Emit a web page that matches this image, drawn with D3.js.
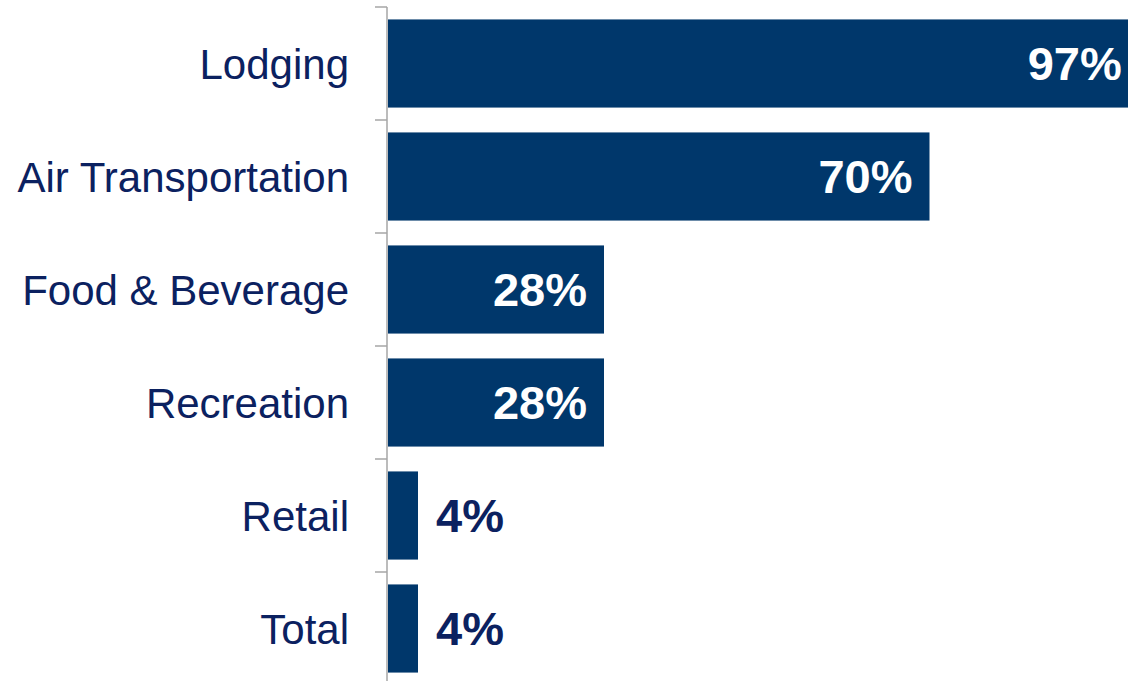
<!DOCTYPE html>
<html>
<head>
<meta charset="utf-8">
<script src="https://cdn.jsdelivr.net/npm/d3@7"></script>
<style>
  html, body { margin: 0; padding: 0; background: #ffffff; }
  svg { display: block; }
</style>
</head>
<body>
<svg id="chart" width="1128" height="681"></svg>
<script>
// Share of spending by category
const categories = ["Lodging", "Air Transportation", "Food & Beverage", "Recreation", "Retail", "Total"];
const shares = [97, 70, 28, 28, 4, 4];
const shareLabels = ["97%", "70%", "28%", "28%", "4%", "4%"];

const W = 1128, H = 681;
const axisX = 387;
const barColor = "#00376b";
const textColor = "#0b2160";
const axisColor = "#a6a6a6";
const fontFamily = "Arial, 'Liberation Sans', Helvetica, sans-serif";

const svg = d3.select("#chart");

const x = d3.scaleLinear().domain([0, 100]).range([axisX, axisX + 775]);
const y = d3.scaleBand().domain(categories).range([7, 685])
  .paddingInner(0.22).paddingOuter(0.11);

const rows = categories.map((c, i) => ({ cat: c, value: shares[i], label: shareLabels[i] }));

// bars
svg.append("g").selectAll("rect")
  .data(rows)
  .join("rect")
  .attr("x", x(0) + 1)
  .attr("y", d => y(d.cat))
  .attr("width", d => x(d.value) - x(0) - 1)
  .attr("height", y.bandwidth())
  .attr("fill", barColor);

// category axis: vertical line with ticks between the bands
const half = (y.step() - y.bandwidth()) / 2;
const tickYs = categories.map(c => y(c) - half).concat([y(categories[categories.length - 1]) + y.bandwidth() + half]);
const axis = svg.append("g");
axis.append("line")
  .attr("x1", axisX).attr("x2", axisX)
  .attr("y1", tickYs[0]).attr("y2", H)
  .attr("stroke", axisColor).attr("stroke-width", 1.5);
axis.selectAll("line.tick")
  .data(tickYs)
  .join("line")
  .attr("class", "tick")
  .attr("x1", axisX - 12).attr("x2", axisX)
  .attr("y1", d => d).attr("y2", d => d)
  .attr("stroke", axisColor).attr("stroke-width", 1.5);

// category labels
const catSize = 42;
svg.append("g").selectAll("text")
  .data(rows)
  .join("text")
  .attr("x", axisX - 38)
  .attr("y", d => y(d.cat) + y.bandwidth() / 2 + catSize * 0.716 / 2)
  .attr("text-anchor", "end")
  .attr("font-family", fontFamily)
  .attr("font-size", catSize)
  .attr("fill", textColor)
  .text(d => d.cat);

// value labels: inside the bar when it is wide enough, otherwise just after it
const valSize = 47;
svg.append("g").selectAll("text")
  .data(rows)
  .join("text")
  .each(function(d) {
    const inside = d.value >= 10;
    d3.select(this)
      .attr("x", inside ? x(d.value) - 17 : x(d.value) + 18)
      .attr("text-anchor", inside ? "end" : "start")
      .attr("fill", inside ? "#ffffff" : textColor);
  })
  .attr("y", d => y(d.cat) + y.bandwidth() / 2 + valSize * 0.716 / 2)
  .attr("font-family", fontFamily)
  .attr("font-size", valSize)
  .attr("font-weight", "bold")
  .text(d => d.label);
</script>
</body>
</html>
